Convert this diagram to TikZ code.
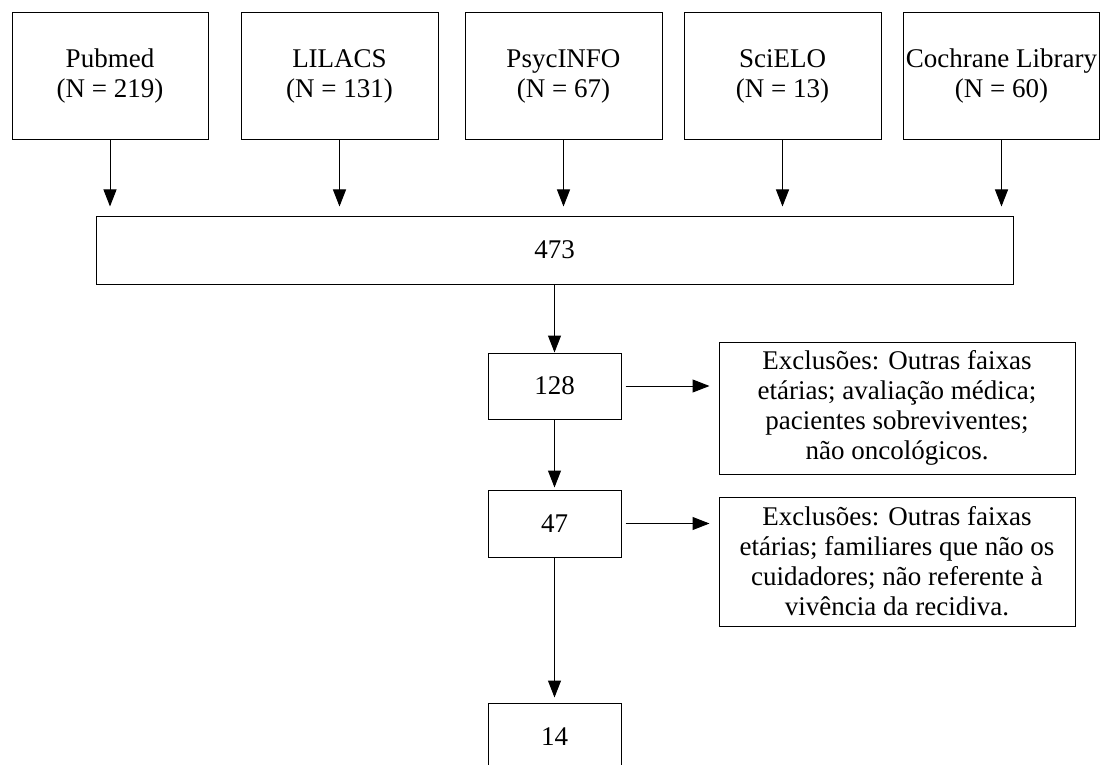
\documentclass[tikz,border=0pt]{standalone}
\usepackage{fontspec}
\setmainfont{Liberation Serif}
\usetikzlibrary{arrows.meta}
\tikzset{
  box/.style={draw, line width=1pt, inner sep=0pt, align=center,
    font=\fontsize{27}{30}\selectfont},
  flow/.style={line width=1pt, -{Triangle[length=17pt,width=13pt]}}
}
\begin{document}
\begin{tikzpicture}[x=1pt, y=-1pt]
	\useasboundingbox (0,0) rectangle (1101,765);
	% bases
	\node[box, minimum width=196pt, minimum height=127pt] (pubmed)   at (110,76.5)    {Pubmed\\(N = 219)};
	\node[box, minimum width=197pt, minimum height=127pt] (lilacs)   at (339.5,76.5)  {LILACS\\(N = 131)};
	\node[box, minimum width=197pt, minimum height=127pt] (psyc)     at (563.5,76.5)  {PsycINFO\\(N = 67)};
	\node[box, minimum width=197pt, minimum height=127pt] (scielo)   at (782.5,76.5)  {SciELO\\(N = 13)};
	\node[box, minimum width=196pt, minimum height=127pt] (cochrane) at (1001.5,76.5) {Cochrane Library\\(N = 60)};
	\node[box, minimum width=917pt, minimum height=68pt]  (total)    at (554.5,250)   {473};
	% triagem
	\node[box, minimum width=133pt, minimum height=66pt] (n128) at (554.5,386)   {128};
	\node[box, minimum width=133pt, minimum height=67pt] (n47)  at (554.5,523.5) {47};
	\node[box, minimum width=133pt, minimum height=67pt] (n14)  at (554.5,736.5) {14};
	\node[box, minimum width=356pt, minimum height=132pt] (excl1) at (897,408)
		{Exclusões: Outras faixas\\etárias; avaliação médica;\\pacientes sobreviventes;\\não oncológicos.};
	\node[box, minimum width=356pt, minimum height=129pt] (excl2) at (897,561.5)
		{Exclusões: Outras faixas\\etárias; familiares que não os\\cuidadores; não referente à\\vivência da recidiva.};
	\foreach \base in {pubmed,lilacs,psyc,scielo,cochrane}
		\draw[flow, shorten >=9pt] (\base.south) -- (\base.south |- total.north);
	\draw[flow] (total) -- (n128);
	\draw[flow, shorten >=2pt] (n128) -- (n47);
	\draw[flow, shorten >=5pt] (n47) -- (n14);
	\draw[flow, shorten <=4pt, shorten >=9pt] (n128.east) -- (n128.east -| excl1.west);
	\draw[flow, shorten <=4pt, shorten >=9pt] (n47.east) -- (n47.east -| excl2.west);
\end{tikzpicture}
\end{document}
